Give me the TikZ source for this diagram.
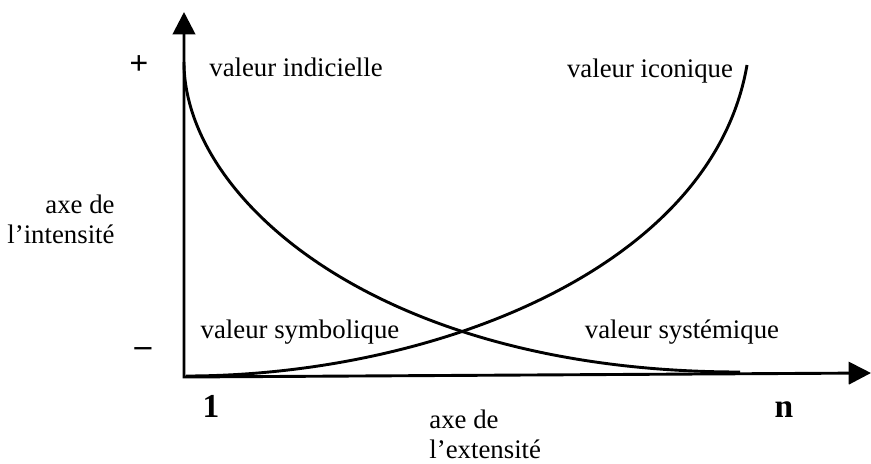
\documentclass[tikz,border=0pt]{standalone}
\usepackage{fontspec}
\setmainfont{Liberation Serif}
\usetikzlibrary{arrows.meta}

\begin{document}
\begin{tikzpicture}[
  x=0.448pt, y=-0.448pt,
  font=\fontsize{12}{13.3}\selectfont,
  axis/.style ={line width=1.3pt,
                {Triangle[width=10pt,length=10pt]}-{Triangle[width=10pt,length=10pt]}},
  curve/.style={line width=1.3pt},
  lbl/.style  ={anchor=base, inner sep=0pt},
  sign/.style ={inner sep=0pt, font=\fontsize{15}{15}\selectfont\bfseries},
]
\useasboundingbox (0,0) rectangle (871,463);

%-- axes
\coordinate (ytop) at (184,12);
\coordinate (O)    at (184,377);
\coordinate (xend) at (871,373);
\draw[axis] (ytop) -- (O) -- (xend);

\node[sign] (plus)  at (139,65)  {+};
\node[sign] (minus) at (143,352) {--};
\node[sign] (one)   at (211,406) {1};
\node[sign] (n)     at (784,410) {n};

% base anchor = baseline of the last line
\node[lbl, anchor=base east, align=right] (intens) at (115,243)
  {axe de\\l’intensité};
\node[lbl, anchor=base west, align=left] (extens) at (429,458)
  {axe de\\l’extensité};

%-- curves
\coordinate (ind0) at (184,62);
\coordinate (ind1) at (740,372);
\draw[curve] (ind0) .. controls (184,200) and (380,372) .. (ind1);

\coordinate (ico0) at (186,376);
\coordinate (ico1) at (747,65);
\draw[curve] (ico0) .. controls (430,376) and (712,270) .. (ico1);

%-- values
\node[lbl] (indic) at (296,76)  {valeur indicielle};
\node[lbl] (icon)  at (650,77)  {valeur iconique};
\node[lbl] (symb)  at (300,338) {valeur symbolique};
\node[lbl] (syst)  at (682,338) {valeur systémique};

\end{tikzpicture}
\end{document}
